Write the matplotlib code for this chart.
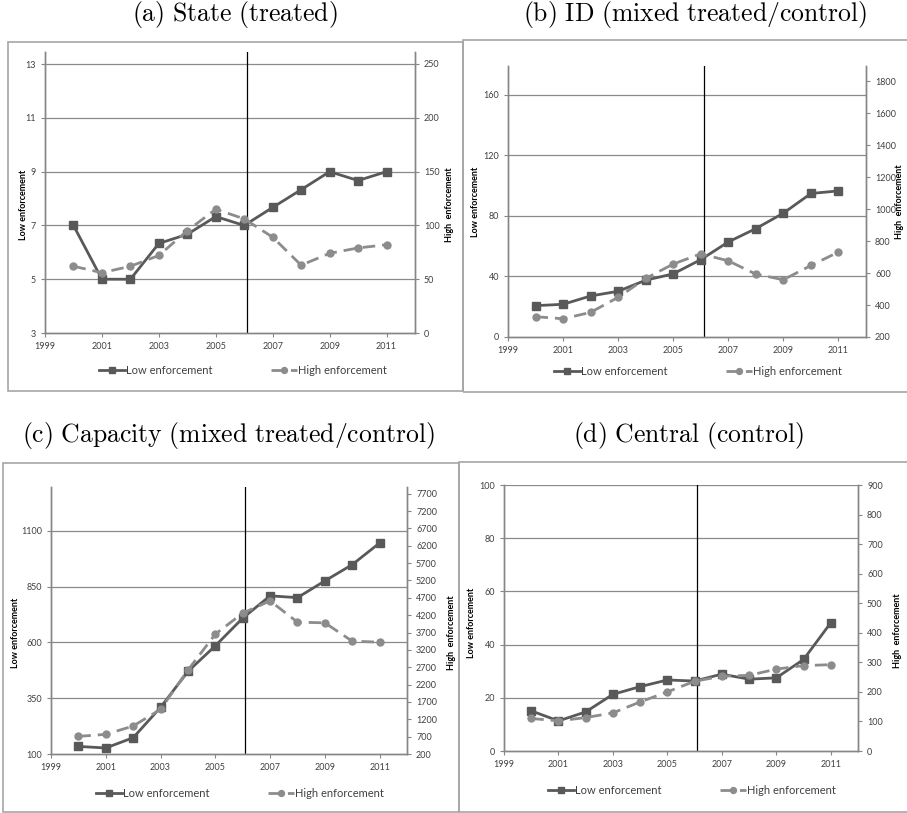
import matplotlib.pyplot as plt
from matplotlib.patches import Rectangle

plt.rcParams['font.family'] = ['Lato', 'DejaVu Sans']
plt.rcParams['mathtext.fontset'] = 'cm'

years = [2000, 2001, 2002, 2003, 2004, 2005, 2006, 2007, 2008, 2009, 2010, 2011]
xtick_years = [1999, 2001, 2003, 2005, 2007, 2009, 2011]
reform_year = 2006.1

# low enforcement -> left axis, high enforcement -> right axis
state_low = [7, 5, 5, 6.33, 6.67, 7.33, 7, 7.67, 8.33, 9, 8.67, 9]
state_high = [62, 56, 62, 72, 95, 115, 106, 89, 63, 74, 79, 82]
id_low = [20.7, 21.6, 27.1, 30.2, 37.5, 41.7, 51.1, 62.8, 71.6, 81.8, 94.8, 96.5]
id_high = [327, 314, 354, 448, 566, 656, 720, 676, 593, 558, 647, 731]
cap_low = [134, 127, 173, 309, 470, 585, 709, 809, 801, 876, 949, 1046]
cap_high = [708, 766, 1006, 1485, 2617, 3653, 4257, 4612, 3998, 3979, 3451, 3422]
cen_low = [15.1, 11.3, 14.7, 21.3, 24.2, 26.7, 26.3, 28.9, 27.0, 27.5, 34.4, 48.2]
cen_high = [110, 102, 113, 129, 166, 200, 236, 253, 256, 277, 289, 292]

titles = [r'$\mathrm{(a)\ State\ (treated)}$',
          r'$\mathrm{(b)\ ID\ (mixed\ treated/control)}$',
          r'$\mathrm{(c)\ Capacity\ (mixed\ treated/control)}$',
          r'$\mathrm{(d)\ Central\ (control)}$']
left_ticks = [[3, 5, 7, 9, 11, 13], [0, 40, 80, 120, 160],
              [100, 350, 600, 850, 1100], [0, 20, 40, 60, 80, 100]]
right_ticks = [list(range(0, 251, 50)), list(range(200, 1801, 200)),
               list(range(200, 7701, 500)), list(range(0, 901, 100))]
left_lims = [(3, 13.45), (0, 179), (100, 1297), (0, 100)]
right_lims = [(0, 261), (200, 1894), (200, 7892), (0, 900)]
lows = [state_low, id_low, cap_low, cen_low]
highs = [state_high, id_high, cap_high, cen_high]

W, H = 907, 813
# pixel layout: axes (left, right, top, bottom), frame (left, right, top, bottom)
axes_px = [(45, 415, 52, 333), (508, 866, 66, 337), (51, 407, 487, 754), (504, 858, 485, 751)]
frame_px = [(8, 463, 42, 391), (463, 912, 40, 392), (3, 459, 463, 812), (459, 912, 462, 812)]
title_px = [(235, 15), (695, 15), (228, 435), (689, 435)]
legend_px = [(243, 370), (698, 371), (240, 793), (692, 790)]
ylabel_px = [(23, 205), (475, 202), (16, 633), (471, 623)]
y2label_px = [(450, 205), (899, 202), (451, 633), (897, 631)]

grid_col = '#8a8a8a'
spine_col = '#868686'
text_col = '#404040'

fig = plt.figure(figsize=(W / 100, H / 100), dpi=100)

for i in range(4):
    x0, x1, y0, y1 = frame_px[i]
    fig.patches.append(Rectangle((x0 / W, 1 - y1 / H), (x1 - x0) / W, (y1 - y0) / H,
                                 transform=fig.transFigure, fill=False,
                                 edgecolor='#a6a6a6', lw=1.2))
    tx, ty = title_px[i]
    fig.text(tx / W, 1 - ty / H, titles[i], ha='center', va='center', fontsize=18.5)

    l, r, t, b = axes_px[i]
    ax = fig.add_axes([l / W, 1 - b / H, (r - l) / W, (b - t) / H])
    ax2 = ax.twinx()

    ax.set_xlim(1999, 2012)
    ax.set_ylim(*left_lims[i])
    ax2.set_ylim(*right_lims[i])
    ax.set_xticks(xtick_years)
    ax.set_yticks(left_ticks[i])
    ax2.set_yticks(right_ticks[i])
    for a in (ax, ax2):
        a.tick_params(labelsize=6.5, colors=spine_col, labelcolor=text_col, length=3, width=0.8)
        a.spines['top'].set_visible(False)
        for s in ('left', 'right', 'bottom'):
            a.spines[s].set_color(spine_col)
            a.spines[s].set_linewidth(1)
    for v in left_ticks[i][1:]:
        ax.axhline(v, color=grid_col, lw=0.9, zorder=0)

    ax.axvline(reform_year, color='black', lw=0.9, zorder=1)

    h1, = ax.plot(years, lows[i], color='#595959', lw=2, marker='s', ms=5.5,
                  label='Low enforcement', zorder=4)
    h2, = ax2.plot(years, highs[i], color='#8c8c8c', lw=2, ls=(0, (4.5, 2.5)), marker='o', ms=5,
                   label='High enforcement', zorder=3)

    lx, ly = legend_px[i]
    ax.legend([h1, h2], ['Low enforcement', 'High enforcement'], loc='center',
              bbox_to_anchor=(lx / W, 1 - ly / H), bbox_transform=fig.transFigure,
              ncol=2, frameon=False, fontsize=8, handlelength=2.4, handletextpad=0.1,
              columnspacing=5.2, labelcolor=text_col, markerscale=0.85)

    yx, yy = ylabel_px[i]
    fig.text(yx / W, 1 - yy / H, 'Low enforcement', rotation=90, ha='center', va='center',
             fontsize=6.5, fontweight='bold', color='black')
    yx, yy = y2label_px[i]
    fig.text(yx / W, 1 - yy / H, 'High  enforcement', rotation=90, ha='center', va='center',
             fontsize=6.5, fontweight='bold', color='black')

fig.savefig('out.png', dpi=100)
